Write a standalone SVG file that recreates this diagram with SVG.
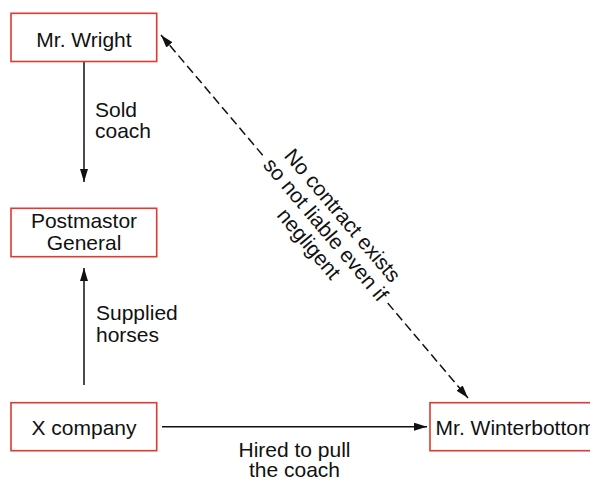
<svg xmlns="http://www.w3.org/2000/svg" width="590" height="482" viewBox="0 0 590 482">
  <defs>
    <marker id="arrow" markerUnits="userSpaceOnUse" markerWidth="13" markerHeight="8" refX="13" refY="4" orient="auto-start-reverse">
      <path d="M0,0 L13,4 L0,8 z" fill="#111"/>
    </marker>
    <style>
      .box { fill: #fff; stroke: #e0392f; stroke-width: 1.6; }
      .lbl { font-family: "Liberation Sans", Arial, Helvetica, sans-serif; font-size: 21px; fill: #111; }
      .mid { text-anchor: middle; }
      .edge { fill: none; stroke: #111; stroke-width: 1.5; }
      .dash { stroke-dasharray: 9 4.5; }
    </style>
  </defs>
  <rect width="590" height="482" fill="#fff"/>

  <!-- connectors -->
  <g id="connectors">
    <line class="edge" x1="84" y1="61.5" x2="84" y2="182" marker-end="url(#arrow)"/>
    <text class="lbl" x="95" y="116.7">Sold</text>
    <text class="lbl" x="95" y="138.4">coach</text>

    <line class="edge" x1="84" y1="385" x2="84" y2="268" marker-end="url(#arrow)"/>
    <text class="lbl" x="96" y="320">Supplied</text>
    <text class="lbl" x="96" y="341.7">horses</text>

    <line class="edge" x1="162" y1="426.7" x2="427" y2="426.7" marker-end="url(#arrow)"/>
    <text class="lbl mid" x="294.5" y="456.7">Hired to pull</text>
    <text class="lbl mid" x="294.5" y="477">the coach</text>

    <line class="edge dash" x1="161" y1="35" x2="468" y2="398" marker-start="url(#arrow)" marker-end="url(#arrow)"/>
    <g transform="translate(325.7,229.7) rotate(49.8)">
      <rect x="-96" y="-9" width="192" height="18" fill="#fff"/>
      <text class="lbl mid" x="0" y="-15">No contract exists</text>
      <text class="lbl mid" x="0" y="7">so not liable even if</text>
      <text class="lbl mid" x="0" y="29">negligent</text>
    </g>
  </g>

  <g id="mr-wright">
    <rect class="box" x="11" y="13.3" width="145.7" height="48.2"/>
    <text class="lbl mid" x="84" y="46.5">Mr. Wright</text>
  </g>

  <g id="postmaster-general">
    <rect class="box" x="11" y="208.3" width="145.7" height="48.4"/>
    <text class="lbl mid" x="84" y="228.3">Postmastor</text>
    <text class="lbl mid" x="84" y="250">General</text>
  </g>

  <g id="x-company">
    <rect class="box" x="11" y="402.7" width="145.7" height="48"/>
    <text class="lbl mid" x="84" y="435">X company</text>
  </g>

  <g id="mr-winterbottom">
    <rect class="box" x="430" y="402.7" width="175" height="48"/>
    <text class="lbl mid" x="515.5" y="435">Mr. Winterbottom</text>
  </g>
</svg>
